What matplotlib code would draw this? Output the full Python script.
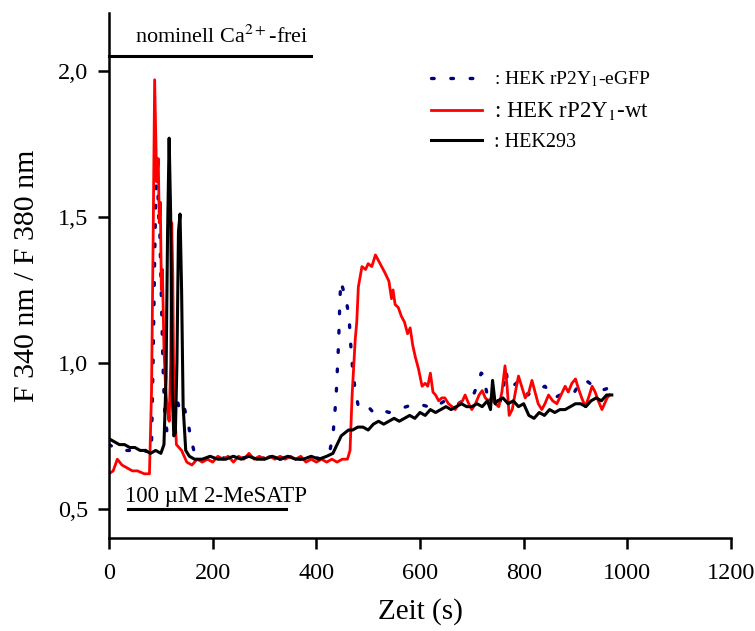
"""Fura-2 ratio traces: HEK rP2Y1-eGFP, HEK rP2Y1-wt and HEK293."""

import matplotlib
matplotlib.use("Agg")
import matplotlib.pyplot as plt
from matplotlib.ticker import FuncFormatter

plt.rcParams["font.family"] = ["Liberation Serif", "DejaVu Serif"]
plt.rcParams["mathtext.fontset"] = "stix"

# (time s, ratio)
egfp = [(0, 0.72), (10, 0.71), (20, 0.71), (30, 0.70), (40, 0.70), (50, 0.70),
        (60, 0.69), (70, 0.70), (78, 0.69), (82, 0.72), (85, 1.00), (88, 1.35),
        (90, 1.55), (92, 1.65), (94, 1.60), (96, 1.50), (98, 1.45), (100, 1.30),
        (102, 1.15), (104, 1.00), (106, 0.90), (108, 0.82), (112, 0.76), (116, 0.82),
        (120, 0.85), (126, 0.82), (132, 0.87), (136, 0.84), (142, 0.86), (146, 0.84),
        (152, 0.80), (158, 0.74), (165, 0.69), (175, 0.67), (190, 0.67), (210, 0.68),
        (230, 0.67), (250, 0.67), (270, 0.68), (290, 0.67), (310, 0.68), (330, 0.67),
        (350, 0.68), (370, 0.67), (390, 0.68), (410, 0.67), (425, 0.69), (432, 0.75),
        (438, 0.88), (443, 1.07), (445, 1.19), (447, 1.28), (452, 1.25), (458, 1.21),
        (463, 1.16), (466, 1.07), (470, 0.98), (474, 0.92), (481, 0.85), (490, 0.86),
        (500, 0.85), (510, 0.83), (525, 0.84), (540, 0.83), (555, 0.84), (574, 0.85),
        (590, 0.86), (606, 0.855), (625, 0.845), (648, 0.87), (660, 0.86), (670, 0.855),
        (690, 0.88), (703, 0.89), (712, 0.93), (718, 0.965), (722, 0.96), (725, 0.93),
        (731, 0.88), (745, 0.87), (757, 0.87), (762, 0.93), (766, 0.975), (770, 0.92),
        (779, 0.92), (789, 0.935), (800, 0.91), (808, 0.89), (815, 0.90), (821, 0.905),
        (830, 0.91), (841, 0.92), (850, 0.90), (860, 0.88), (870, 0.89), (879, 0.90),
        (898, 0.90), (911, 0.94), (924, 0.935), (935, 0.92), (947, 0.905), (958, 0.91),
        (970, 0.92)]

wt = [(0, 0.62), (8, 0.63), (16, 0.67), (25, 0.65), (35, 0.64), (45, 0.63),
      (55, 0.63), (68, 0.62), (78, 0.62), (82, 0.90), (85, 1.40), (88, 1.97),
      (90, 1.80), (92, 1.62), (95, 1.70), (97, 1.48), (99, 1.55), (101, 1.25),
      (103, 1.32), (106, 1.05), (109, 0.92), (112, 0.85), (116, 0.80), (119, 1.00),
      (121, 1.48), (123, 1.30), (125, 0.90), (130, 0.72), (140, 0.70), (150, 0.66),
      (160, 0.65), (170, 0.67), (180, 0.66), (190, 0.67), (200, 0.66), (210, 0.68),
      (220, 0.67), (230, 0.68), (240, 0.66), (250, 0.68), (260, 0.67), (270, 0.69),
      (280, 0.67), (290, 0.68), (300, 0.67), (310, 0.68), (320, 0.67), (330, 0.68),
      (340, 0.67), (350, 0.68), (360, 0.67), (370, 0.68), (380, 0.66), (390, 0.67),
      (400, 0.66), (410, 0.67), (420, 0.66), (430, 0.67), (440, 0.66), (450, 0.67),
      (460, 0.67), (465, 0.70), (469, 0.89), (475, 1.08), (478, 1.14), (481, 1.26),
      (488, 1.33), (495, 1.32), (500, 1.34), (507, 1.33), (514, 1.37), (520, 1.35),
      (526, 1.33), (532, 1.31), (540, 1.28), (545, 1.22), (548, 1.25), (552, 1.20),
      (558, 1.19), (564, 1.16), (570, 1.14), (576, 1.10), (581, 1.12), (586, 1.06),
      (591, 1.02), (597, 0.98), (604, 0.92), (610, 0.93), (615, 0.92), (620, 0.965),
      (625, 0.90), (630, 0.89), (636, 0.87), (642, 0.88), (648, 0.88), (655, 0.86),
      (662, 0.85), (668, 0.84), (675, 0.86), (682, 0.87), (687, 0.89), (694, 0.86),
      (700, 0.84), (707, 0.86), (714, 0.89), (720, 0.905), (726, 0.88), (732, 0.87),
      (738, 0.88), (745, 0.86), (752, 0.85), (758, 0.90), (764, 0.99), (768, 0.92),
      (772, 0.82), (778, 0.84), (784, 0.90), (790, 0.955), (796, 0.92), (803, 0.88),
      (810, 0.90), (816, 0.94), (822, 0.90), (828, 0.86), (835, 0.84), (841, 0.86),
      (848, 0.89), (856, 0.87), (864, 0.86), (872, 0.89), (880, 0.92), (886, 0.90),
      (893, 0.93), (900, 0.945), (906, 0.91), (912, 0.88), (919, 0.85), (925, 0.88),
      (932, 0.92), (938, 0.90), (944, 0.87), (951, 0.84), (956, 0.86), (961, 0.88),
      (966, 0.89)]

hek293 = [(0, 0.74), (10, 0.73), (20, 0.72), (30, 0.72), (40, 0.71), (50, 0.71),
          (60, 0.70), (70, 0.70), (80, 0.69), (90, 0.70), (100, 0.69), (106, 0.72),
          (110, 0.95), (113, 1.45), (116, 1.77), (119, 1.50), (122, 0.90), (125, 0.75),
          (128, 0.76), (131, 1.00), (134, 1.45), (137, 1.51), (140, 1.25), (143, 0.85),
          (148, 0.70), (155, 0.68), (165, 0.67), (180, 0.67), (195, 0.68), (210, 0.67),
          (225, 0.67), (240, 0.68), (255, 0.67), (270, 0.68), (285, 0.67), (300, 0.67),
          (315, 0.68), (330, 0.67), (345, 0.68), (360, 0.67), (375, 0.67), (390, 0.68),
          (405, 0.67), (420, 0.68), (432, 0.69), (440, 0.72), (448, 0.75), (455, 0.76),
          (462, 0.77), (470, 0.77), (480, 0.78), (490, 0.78), (500, 0.77), (510, 0.79),
          (520, 0.80), (530, 0.79), (540, 0.80), (550, 0.81), (560, 0.80), (570, 0.81),
          (580, 0.82), (590, 0.81), (600, 0.83), (610, 0.82), (620, 0.84), (630, 0.83),
          (640, 0.84), (650, 0.85), (660, 0.84), (670, 0.85), (680, 0.86), (690, 0.85),
          (700, 0.85), (710, 0.86), (720, 0.85), (730, 0.87), (736, 0.84), (740, 0.94),
          (745, 0.86), (750, 0.87), (760, 0.88), (770, 0.86), (780, 0.87), (790, 0.85),
          (800, 0.86), (810, 0.82), (820, 0.81), (830, 0.83), (840, 0.82), (850, 0.84),
          (860, 0.83), (870, 0.84), (880, 0.84), (890, 0.85), (900, 0.86), (910, 0.86),
          (920, 0.85), (930, 0.87), (940, 0.88), (950, 0.87), (960, 0.89), (970, 0.89)]

y_ticks = [0.5, 1.0, 1.5, 2.0]
x_ticks = [0, 200, 400, 600, 800, 1000, 1200]


def unzip(points):
    return [p[0] for p in points], [p[1] for p in points]


fig = plt.figure(figsize=(7.55, 6.31), dpi=100)
ax = fig.add_axes([0.1444, 0.1474, 0.8238, 0.8325])

t, v = unzip(egfp)
ax.plot(t, v, color="#000080", lw=2.4, linestyle=(0, (0.8, 5)),
        dash_capstyle="round", label=r": HEK rP2Y$_1$-eGFP")
t, v = unzip(wt)
ax.plot(t, v, color="red", lw=2.0, label=r": HEK rP2Y$_1$-wt")
t, v = unzip(hek293)
ax.plot(t, v, color="black", lw=2.2, label=": HEK293")

# bars for buffer / agonist application
ax.plot([0, 390], [2.05, 2.05], color="black", lw=2.2, clip_on=False)
ax.text(218, 2.08, r"nominell Ca$^{2+}$-frei", ha="center", va="bottom", fontsize=16)
ax.plot([37, 341], [0.5, 0.5], color="black", lw=2.2)
ax.text(30, 0.505, "100 µM 2-MeSATP", ha="left", va="bottom", fontsize=16.5)

ax.set_xlim(0, 1200)
ax.set_ylim(0.4, 2.2)
ax.set_xticks(x_ticks)
ax.set_yticks(y_ticks)
ax.yaxis.set_major_formatter(FuncFormatter(lambda y, pos: f"{y:.1f}".replace(".", ",")))
ax.tick_params(direction="out", length=8, width=1.8, labelsize=17.5)
ax.tick_params(axis="x", pad=10)
ax.tick_params(axis="y", pad=7)
for side in ["top", "right"]:
    ax.spines[side].set_visible(False)
for side in ["left", "bottom"]:
    ax.spines[side].set_linewidth(1.8)

ax.set_xlabel("Zeit (s)", fontsize=21, labelpad=10)
ax.set_ylabel("F 340 nm / F 380 nm", fontsize=21.5, labelpad=13)

leg = ax.legend(loc="upper left", bbox_to_anchor=(0.49, 0.925), frameon=False,
                handlelength=2.6, handletextpad=0.6, labelspacing=0.55, fontsize=14)
sizes = [14, 16.5, 14.5]
for txt, s in zip(leg.get_texts(), sizes):
    txt.set_fontsize(s)

fig.savefig("out.png", dpi=100)
